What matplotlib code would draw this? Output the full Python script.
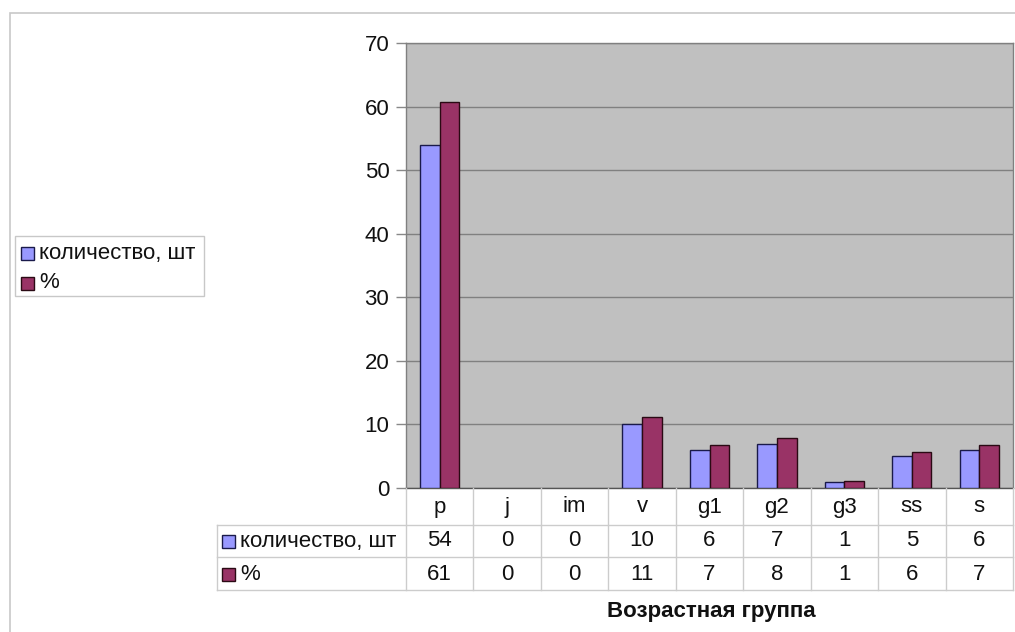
import matplotlib
matplotlib.use("Agg")
import matplotlib.pyplot as plt
from matplotlib.lines import Line2D
from matplotlib.patches import Rectangle
import numpy as np

plt.rcParams['font.family'] = ['Liberation Sans', 'DejaVu Sans']

categories = ['p', 'j', 'im', 'v', 'g1', 'g2', 'g3', 'ss', 's']
count_values = [54, 0, 0, 10, 6, 7, 1, 5, 6]
percent_values = [60.7, 0, 0, 11.2, 6.7, 7.9, 1.1, 5.6, 6.7]
count_labels = ['54', '0', '0', '10', '6', '7', '1', '5', '6']
percent_labels = ['61', '0', '0', '11', '7', '8', '1', '6', '7']
series_names = ['количество, шт', '%']
xlabel = 'Возрастная группа'
yticks = [0, 10, 20, 30, 40, 50, 60, 70]

W, H = 1015, 632
fig = plt.figure(figsize=(W / 100, H / 100), dpi=100)

def fx(x):
    return x / W

def fy(y):
    return 1 - y / H

blue = '#9999FF'
red = '#993366'
edge_blue = '#1a1a4a'
edge_red = '#2a0a14'
grid_c = '#808080'
tbl_c = '#cccccc'
FS = 16

# outer chart border
fig.add_artist(Rectangle((fx(10), fy(640)), fx(1020 - 10), fy(13) - fy(640),
                         transform=fig.transFigure, fill=False,
                         edgecolor='#c8c8c8', lw=1.2))

L, R, T, B = 406, 1013, 43, 488
ax = fig.add_axes([fx(L), fy(B), fx(R - L), fy(T) - fy(B)])
ax.set_facecolor('#C0C0C0')
x = np.arange(len(categories))
w = 0.29
lw_c = [1.0 if v > 0 else 0 for v in count_values]
lw_p = [1.0 if v > 0 else 0 for v in percent_values]
ax.bar(x - w / 2, count_values, w, color=blue, edgecolor=edge_blue, linewidth=lw_c, zorder=3)
ax.bar(x + w / 2, percent_values, w, color=red, edgecolor=edge_red, linewidth=lw_p, zorder=3)
ax.set_xlim(-0.5, len(categories) - 0.5)
ax.set_ylim(0, 70)
ax.set_yticks(yticks)
ax.set_yticklabels([str(t) for t in yticks], fontsize=FS, color='#111111')
ax.yaxis.grid(True, color=grid_c, lw=1.0, zorder=1)
ax.set_axisbelow(True)
ax.set_xticks([])
ax.tick_params(axis='y', length=7, width=1, color='#888888', pad=5)
for s in ['left', 'bottom', 'top', 'right']:
    ax.spines[s].set_color('#808080')
    ax.spines[s].set_linewidth(1.0)
ax.spines['bottom'].set_color('#555555')

# data table
col_w = (R - L) / len(categories)
def hline(x0, x1, y, c=tbl_c):
    fig.add_artist(Line2D([fx(x0), fx(x1)], [fy(y), fy(y)], transform=fig.transFigure,
                          color=c, lw=1.0))
def vline(xp, y0, y1, c=tbl_c):
    fig.add_artist(Line2D([fx(xp), fx(xp)], [fy(y0), fy(y1)], transform=fig.transFigure,
                          color=c, lw=1.0))

hline(217, R, 525)
hline(217, R, 557)
hline(217, R, 590)
vline(217, 525, 590)
for i in range(len(categories) + 1):
    vline(L + i * col_w, 488, 590)

for i, c in enumerate(categories):
    cx = L + (i + 0.5) * col_w
    fig.text(fx(cx), fy(507), c, ha='center', va='center', fontsize=FS, color='#111111')
    fig.text(fx(cx), fy(541), count_labels[i], ha='center', va='center', fontsize=FS, color='#111111')
    fig.text(fx(cx), fy(574), percent_labels[i], ha='center', va='center', fontsize=FS, color='#111111')

def swatch(x0, yc, color, ec):
    s = 13
    fig.add_artist(Rectangle((fx(x0), fy(yc + s / 2)), fx(s), fy(yc - s / 2) - fy(yc + s / 2),
                             transform=fig.transFigure, facecolor=color, edgecolor=ec, lw=1.0))

swatch(222, 541, blue, edge_blue)
swatch(222, 574, red, edge_red)
fig.text(fx(240), fy(541), series_names[0], ha='left', va='center', fontsize=FS, color='#111111')
fig.text(fx(240), fy(574), series_names[1], ha='left', va='center', fontsize=FS, color='#111111')

# legend box
fig.add_artist(Rectangle((fx(15), fy(296)), fx(204 - 15), fy(236) - fy(296),
                         transform=fig.transFigure, facecolor='white', edgecolor='#c8c8c8', lw=1.0))
swatch(21, 253, blue, edge_blue)
swatch(21, 283, red, edge_red)
fig.text(fx(39), fy(253), series_names[0], ha='left', va='center', fontsize=FS, color='#111111')
fig.text(fx(39), fy(283), series_names[1], ha='left', va='center', fontsize=FS, color='#111111')

# x label
fig.text(fx(711), fy(611), xlabel, ha='center', va='center', fontsize=16,
         fontweight='bold', color='#111111')

fig.savefig('out.png', dpi=100, facecolor='white')
